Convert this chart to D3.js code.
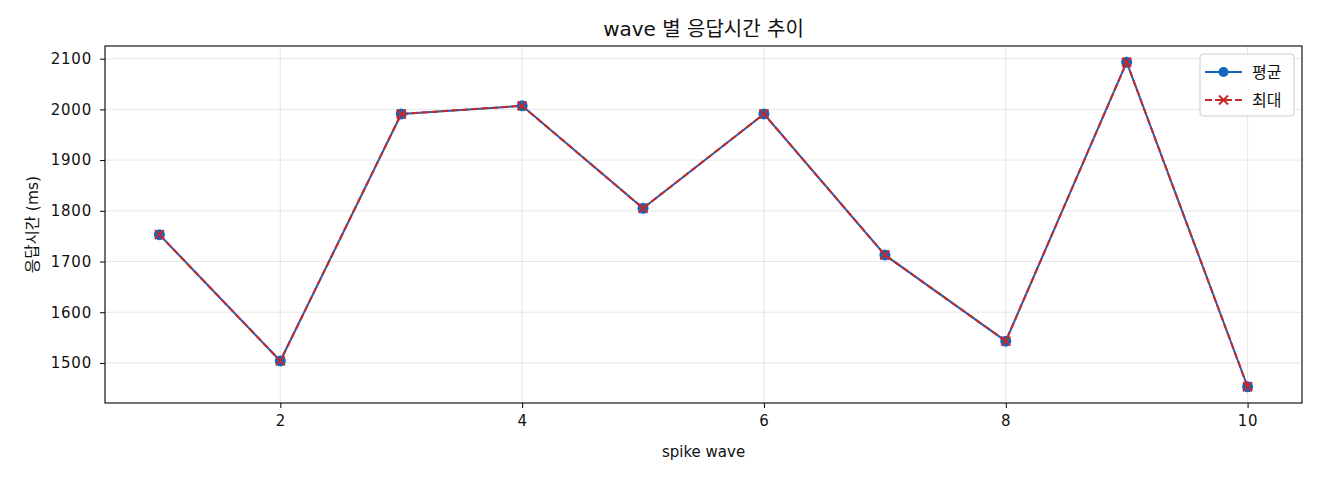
<!DOCTYPE html>
<html>
<head>
<meta charset="utf-8">
<script src="https://cdn.jsdelivr.net/npm/d3@7"></script>
<style>
  body { margin: 0; background: #fff; }
  svg { font-family: "DejaVu Sans", "Noto Sans CJK KR", sans-serif; }
</style>
</head>
<body>
<svg id="chart" width="1320" height="480"></svg>
<script>
// wave 번호와 응답시간 (ms)
const waves = [1, 2, 3, 4, 5, 6, 7, 8, 9, 10];
const avgMs = [1753, 1504, 1991, 2007, 1805, 1991, 1713, 1543, 2093, 1453];
const maxMs = [1753, 1504, 1991, 2007, 1805, 1991, 1713, 1543, 2093, 1453];
const xTicks = [2, 4, 6, 8, 10];
const yTicks = [1500, 1600, 1700, 1800, 1900, 2000, 2100];

const margin = { top: 46, right: 18, bottom: 77, left: 105 };
const svg = d3.select("#chart");
const width = +svg.attr("width") - margin.left - margin.right;
const height = +svg.attr("height") - margin.top - margin.bottom;
const g = svg.append("g").attr("transform", `translate(${margin.left},${margin.top})`);

// matplotlib 기본 5% 여백
const xPad = (d3.max(waves) - d3.min(waves)) * 0.05;
const x = d3.scaleLinear()
  .domain([d3.min(waves) - xPad, d3.max(waves) + xPad])
  .range([0, width]);

const allY = avgMs.concat(maxMs);
const yPad = (d3.max(allY) - d3.min(allY)) * 0.05;
const y = d3.scaleLinear()
  .domain([d3.min(allY) - yPad, d3.max(allY) + yPad])
  .range([height, 0]);

// grid
g.append("g")
  .selectAll("line")
  .data(yTicks)
  .join("line")
  .attr("x1", 0).attr("x2", width)
  .attr("y1", d => y(d)).attr("y2", d => y(d))
  .attr("stroke", "#b0b0b0").attr("stroke-opacity", 0.3).attr("stroke-width", 1);
g.append("g")
  .selectAll("line")
  .data(xTicks)
  .join("line")
  .attr("x1", d => x(d)).attr("x2", d => x(d))
  .attr("y1", 0).attr("y2", height)
  .attr("stroke", "#b0b0b0").attr("stroke-opacity", 0.3).attr("stroke-width", 1);

// axes
const xAxis = g.append("g")
  .attr("transform", `translate(0,${height})`)
  .call(d3.axisBottom(x).tickValues(xTicks).tickFormat(d3.format("d")).tickSize(5).tickPadding(7));
const yAxis = g.append("g")
  .call(d3.axisLeft(y).tickValues(yTicks).tickFormat(d3.format("d")).tickSize(5).tickPadding(8));
[xAxis, yAxis].forEach(a => {
  a.select(".domain").remove();
  a.selectAll(".tick line").attr("stroke", "#000").attr("stroke-width", 1);
  a.selectAll(".tick text")
    .attr("font-size", 15).attr("letter-spacing", 0.8)
    .attr("font-family", "DejaVu Sans").attr("fill", "#111");
});

g.append("rect")
  .attr("width", width).attr("height", height)
  .attr("fill", "none").attr("stroke", "#000").attr("stroke-width", 1.1);

const blue = "#1565C0";
const red = "#C62828";

const line = d3.line()
  .x((d, i) => x(waves[i]))
  .y(d => y(d));

g.append("path")
  .datum(avgMs)
  .attr("fill", "none")
  .attr("stroke", blue)
  .attr("stroke-width", 2)
  .attr("d", line);

g.selectAll("circle.avg")
  .data(avgMs)
  .join("circle")
  .attr("class", "avg")
  .attr("cx", (d, i) => x(waves[i]))
  .attr("cy", d => y(d))
  .attr("r", 5.5)
  .attr("fill", blue);

g.append("path")
  .datum(maxMs)
  .attr("fill", "none")
  .attr("stroke", red)
  .attr("stroke-width", 2)
  .attr("stroke-dasharray", "7,3")
  .attr("d", line);

const xMark = (sel, cx, cy, s) => {
  sel.append("path")
    .attr("d", `M${cx - s},${cy - s}L${cx + s},${cy + s}M${cx - s},${cy + s}L${cx + s},${cy - s}`)
    .attr("stroke", red).attr("stroke-width", 2).attr("fill", "none");
};
maxMs.forEach((d, i) => xMark(g, x(waves[i]), y(d), 4.5));

// legend
const lg = g.append("g").attr("transform", `translate(${width - 102},8)`);
lg.append("rect")
  .attr("width", 94).attr("height", 62).attr("rx", 3)
  .attr("fill", "#fff").attr("fill-opacity", 0.8)
  .attr("stroke", "#ccc").attr("stroke-width", 1);
lg.append("line").attr("x1", 5).attr("x2", 42).attr("y1", 18).attr("y2", 18)
  .attr("stroke", blue).attr("stroke-width", 2);
lg.append("circle").attr("cx", 23.5).attr("cy", 18).attr("r", 5).attr("fill", blue);
lg.append("text").attr("x", 52).attr("y", 23.5).attr("font-size", 16).attr("fill", "#111").text("평균");
lg.append("line").attr("x1", 5).attr("x2", 42).attr("y1", 46).attr("y2", 46)
  .attr("stroke", red).attr("stroke-width", 2).attr("stroke-dasharray", "7,3");
xMark(lg, 23.5, 46, 4.5);
lg.append("text").attr("x", 52).attr("y", 51.5).attr("font-size", 16).attr("fill", "#111").text("최대");

// labels
svg.append("text")
  .attr("x", margin.left + width / 2).attr("y", 36)
  .attr("text-anchor", "middle").attr("font-size", 20).attr("fill", "#111")
  .text("wave 별 응답시간 추이");
svg.append("text")
  .attr("x", margin.left + width / 2).attr("y", 457)
  .attr("text-anchor", "middle").attr("font-size", 15).attr("fill", "#111")
  .text("spike wave");
svg.append("text")
  .attr("transform", `translate(38,${margin.top + height / 2}) rotate(-90)`)
  .attr("text-anchor", "middle").attr("font-size", 15.5).attr("fill", "#111")
  .text("응답시간 (ms)");
</script>
</body>
</html>
